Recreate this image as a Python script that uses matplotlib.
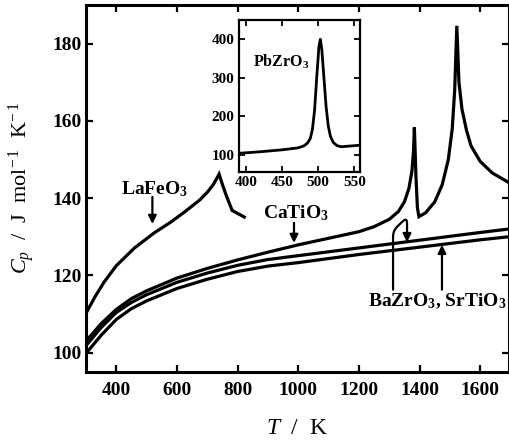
import matplotlib
matplotlib.use("Agg")
import matplotlib.pyplot as plt

# heat capacity curves (T in K, Cp in J/mol/K)
lafeo3_T = [300, 330, 360, 400, 460, 525, 580, 625, 675, 700, 720, 739, 750, 762, 782, 822]
lafeo3_cp = [110.2, 114.5, 118.3, 122.5, 127.1, 131.0, 133.8, 136.4, 139.5, 141.5, 143.5, 146.2, 143.5, 140.8, 136.8, 135.1]

catio3_T = [300, 350, 400, 450, 500, 600, 700, 800, 900, 1000, 1100, 1200, 1250, 1300,
            1330, 1350, 1365, 1375, 1380, 1383, 1388, 1393, 1398, 1420, 1450, 1475, 1495,
            1508, 1516, 1523, 1530, 1540, 1555, 1570, 1600, 1640, 1695]
catio3_cp = [103.0, 107.5, 111.2, 114.0, 116.0, 119.3, 121.8, 124.0, 126.0, 127.9, 129.6, 131.3, 132.6, 134.5,
             136.5, 139.0, 142.5, 147.0, 152.0, 158.3, 146.0, 137.5, 135.2, 136.2, 139.0, 143.5, 150.0,
             158.0, 168.0, 184.6, 170.0, 163.0, 157.5, 153.5, 149.5, 146.5, 144.0]

bazro3_T = [300, 350, 400, 450, 500, 600, 700, 800, 900, 1000, 1200, 1400, 1600, 1695]
bazro3_cp = [101.8, 106.5, 110.4, 113.0, 115.0, 118.2, 120.6, 122.6, 124.1, 125.1, 127.1, 129.1, 131.1, 132.0]

srtio3_T = [300, 350, 400, 450, 500, 600, 700, 800, 900, 1000, 1200, 1400, 1600, 1695]
srtio3_cp = [99.8, 104.5, 108.6, 111.4, 113.4, 116.6, 119.0, 121.0, 122.4, 123.3, 125.4, 127.3, 129.2, 130.0]

# inset: PbZrO3
pbzro3_T = [391, 420, 450, 472, 480, 485, 489, 492, 495, 498, 501, 503, 505, 508, 511, 514, 517, 521, 526, 532, 545, 558]
pbzro3_cp = [104, 108, 113, 118, 123, 130, 142, 165, 215, 300, 380, 400, 375, 300, 225, 175, 148, 132, 124, 121, 123, 125]

plt.rcParams['font.family'] = ['Liberation Serif', 'DejaVu Serif']
plt.rcParams['mathtext.fontset'] = 'custom'
plt.rcParams['mathtext.rm'] = 'Liberation Serif'
plt.rcParams['mathtext.it'] = 'Liberation Serif:italic'
plt.rcParams['mathtext.bf'] = 'Liberation Serif:bold'

fig = plt.figure(figsize=(5.1, 4.46), dpi=100)
ax = fig.add_axes([0.1686, 0.166, 0.8294, 0.823])

lw = 2.3
for T, cp in [(lafeo3_T, lafeo3_cp), (catio3_T, catio3_cp),
              (bazro3_T, bazro3_cp), (srtio3_T, srtio3_cp)]:
    ax.plot(T, cp, color='black', lw=lw, solid_joinstyle='miter')

ax.set_xlim(300, 1695)
ax.set_ylim(95, 190)
ax.set_xticks([400, 600, 800, 1000, 1200, 1400, 1600])
ax.set_yticks([100, 120, 140, 160, 180])
ax.tick_params(direction='in', length=5, width=1.6, top=True, right=True,
               labelsize=14)
ax.tick_params(axis='x', pad=7)
ax.tick_params(axis='y', pad=3)
for lab in ax.get_xticklabels() + ax.get_yticklabels():
    lab.set_fontweight('bold')
for sp in ax.spines.values():
    sp.set_linewidth(2.2)

ax.set_xlabel(r'$T$  /  K', fontsize=17, labelpad=14)
ax.set_ylabel(r'$C_p$  /  J  mol$^{-\,1}$  K$^{-\,1}$', fontsize=16, labelpad=11)

txt = dict(fontsize=14, fontweight='bold', va='baseline')
arr = dict(arrowstyle='-|>', color='black', lw=1.6, mutation_scale=12,
           shrinkA=0, shrinkB=0)
ax.text(416, 141.0, r'LaFeO$_\mathbf{3}$', **txt)
ax.annotate('', xy=(519, 133.3), xytext=(519, 140.3), arrowprops=arr)
ax.text(884, 134.8, r'CaTiO$_\mathbf{3}$', **txt)
ax.annotate('', xy=(986, 128.4), xytext=(986, 133.6), arrowprops=arr)
ax.text(1230, 112.1, r'BaZrO$_\mathbf{3}$, SrTiO$_\mathbf{3}$', clip_on=False, **txt)
ax.annotate('', xy=(1474, 127.9), xytext=(1474, 116.3), arrowprops=arr)
curl = dict(arr, connectionstyle='arc,angleA=90,angleB=90,armA=59,armB=25,rad=6')
ax.annotate('', xy=(1358.8, 128.6), xytext=(1312.7, 116.3), arrowprops=curl)

# inset
axin = fig.add_axes([0.468, 0.614, 0.238, 0.341])
axin.plot(pbzro3_T, pbzro3_cp, color='black', lw=2.0)
axin.set_xlim(390, 558)
axin.set_ylim(55, 450)
axin.set_xticks([400, 450, 500, 550])
axin.set_yticks([100, 200, 300, 400])
axin.tick_params(direction='in', length=4, width=1.3, top=True, right=True,
                 labelsize=11, pad=3)
for lab in axin.get_xticklabels() + axin.get_yticklabels():
    lab.set_fontweight('bold')
for sp in axin.spines.values():
    sp.set_linewidth(1.6)
axin.text(410, 330, r'PbZrO$_\mathbf{3}$', fontsize=11.5, fontweight='bold', va='baseline')

fig.savefig('out.png', dpi=100)
